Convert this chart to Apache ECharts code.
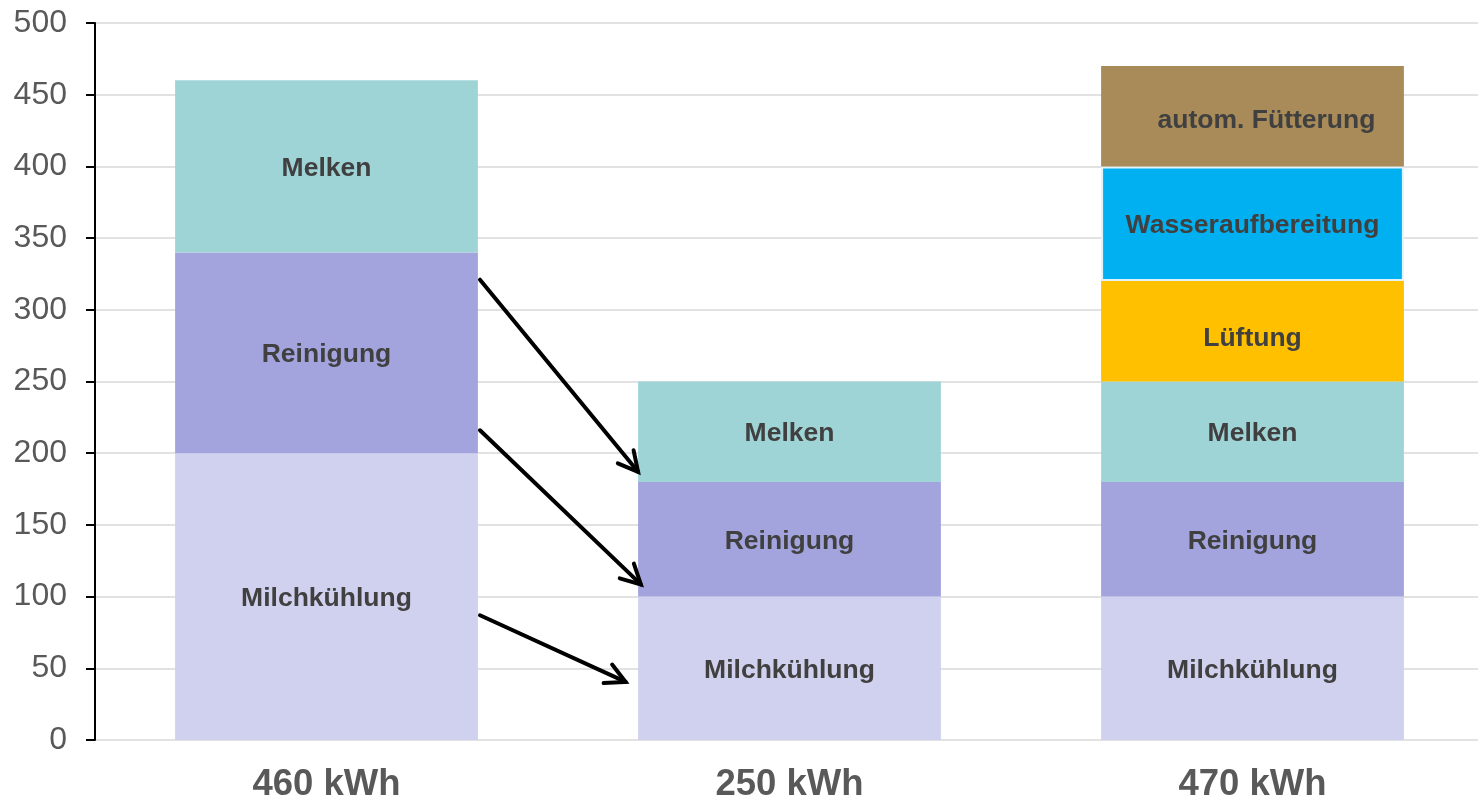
<!DOCTYPE html>
<html>
<head>
<meta charset="utf-8">
<script src="https://cdn.jsdelivr.net/npm/echarts@6/dist/echarts.min.js"></script>
<style>
html,body{margin:0;padding:0;background:#fff;overflow:hidden;}
#chart{width:1484px;height:803px;}
</style>
</head>
<body>
<div id="chart"></div>
<script>
const categories = ['460 kWh', '250 kWh', '470 kWh'];
const milchkuehlung = [200, 100, 100];
const reinigung = [140, 80, 80];
const melken = [120, 70, 70];
const lueftung = [null, null, 70];
const wasseraufbereitung = [null, null, 80];
const fuetterung = [null, null, 70];
const yTicks = [0, 50, 100, 150, 200, 250, 300, 350, 400, 450, 500];
// arrows: from value on bar 1 to value on bar 2
const arrowFrom = [321, 216, 87];
const arrowTo = [187, 108.5, 40.5];

const FONT = 'Arial, "Liberation Sans", sans-serif';
const arrowStartFrac = [0.3315, 0.3315, 0.3315];
const arrowEndFrac = [-0.327, -0.321, -0.354];

function segLabel(name, offset) {
  return {
    show: true,
    position: 'inside',
    formatter: name,
    fontFamily: FONT,
    fontWeight: 'bold',
    fontSize: 26.5,
    color: '#404040',
    offset: offset || [0, 2]
  };
}

function barSeries(name, data, color, extra) {
  return Object.assign({
    name: name,
    type: 'bar',
    stack: 'total',
    barWidth: '65.4%',
    data: data,
    itemStyle: { color: color },
    label: segLabel(name),
    emphasis: { disabled: true },
    silent: true
  }, extra || {});
}

const arrowData = arrowFrom.map((v, i) => [0, v, 1, arrowTo[i], arrowStartFrac[i], arrowEndFrac[i]]);

const chart = echarts.init(document.getElementById('chart'), null, { renderer: 'canvas' });
chart.setOption({
  animation: false,
  backgroundColor: '#ffffff',
  grid: { left: 95, right: 0, top: 23, bottom: 61, containLabel: false },
  xAxis: {
    type: 'category',
    data: categories,
    axisLine: { show: false },
    axisTick: { show: false },
    axisLabel: {
      fontFamily: FONT,
      fontWeight: 'bold',
      fontSize: 36.5,
      color: '#595959',
      margin: 26
    },
    splitLine: { show: false }
  },
  yAxis: {
    type: 'value',
    min: yTicks[0],
    max: yTicks[yTicks.length - 1],
    interval: yTicks[1] - yTicks[0],
    axisLine: { show: true, lineStyle: { color: '#000000', width: 2 } },
    axisTick: { show: true, length: 9, lineStyle: { color: '#000000', width: 2 } },
    axisLabel: {
      fontFamily: FONT,
      fontSize: 32,
      color: '#595959',
      margin: 28
    },
    splitLine: { show: true, lineStyle: { color: '#d9d9d9', width: 1.5 } }
  },
  series: [
    barSeries('Milchkühlung', milchkuehlung, '#d0d1ee'),
    barSeries('Reinigung', reinigung, '#a3a3de'),
    barSeries('Melken', melken, '#9fd4d7'),
    barSeries('Lüftung', lueftung, '#ffc000', { label: segLabel('Lüftung', [0, 7]) }),
    barSeries('Wasseraufbereitung', wasseraufbereitung, '#00b0f0', {
      itemStyle: { color: '#00b0f0', borderColor: '#e0f3fb', borderWidth: 2 }
    }),
    barSeries('autom. Fütterung', fuetterung, '#a88b58', { label: segLabel('autom. Fütterung', [14, 4]) }),
    {
      type: 'custom',
      silent: true,
      z: 10,
      encode: { x: [0, 2], y: [1, 3] },
      data: arrowData,
      renderItem: function (params, api) {
        const band = api.size([1, 0])[0];
        const p0 = api.coord([api.value(0), api.value(1)]);
        const p1 = api.coord([api.value(2), api.value(3)]);
        const x0 = p0[0] + band * api.value(4);
        const y0 = p0[1];
        const x1 = p1[0] + band * api.value(5);
        const y1 = p1[1];
        const ang = Math.atan2(y1 - y0, x1 - x0);
        const hl = 22, ha = Math.PI / 6.5;
        const a1 = [x1 - hl * Math.cos(ang - ha), y1 - hl * Math.sin(ang - ha)];
        const a2 = [x1 - hl * Math.cos(ang + ha), y1 - hl * Math.sin(ang + ha)];
        const st = { stroke: '#000000', lineWidth: 4, fill: null, lineCap: 'round', lineJoin: 'miter' };
        return {
          type: 'group',
          children: [
            { type: 'line', shape: { x1: x0, y1: y0, x2: x1, y2: y1 }, style: st },
            { type: 'polyline', shape: { points: [a1, [x1, y1], a2] }, style: st }
          ]
        };
      }
    }
  ]
});
</script>
</body>
</html>
